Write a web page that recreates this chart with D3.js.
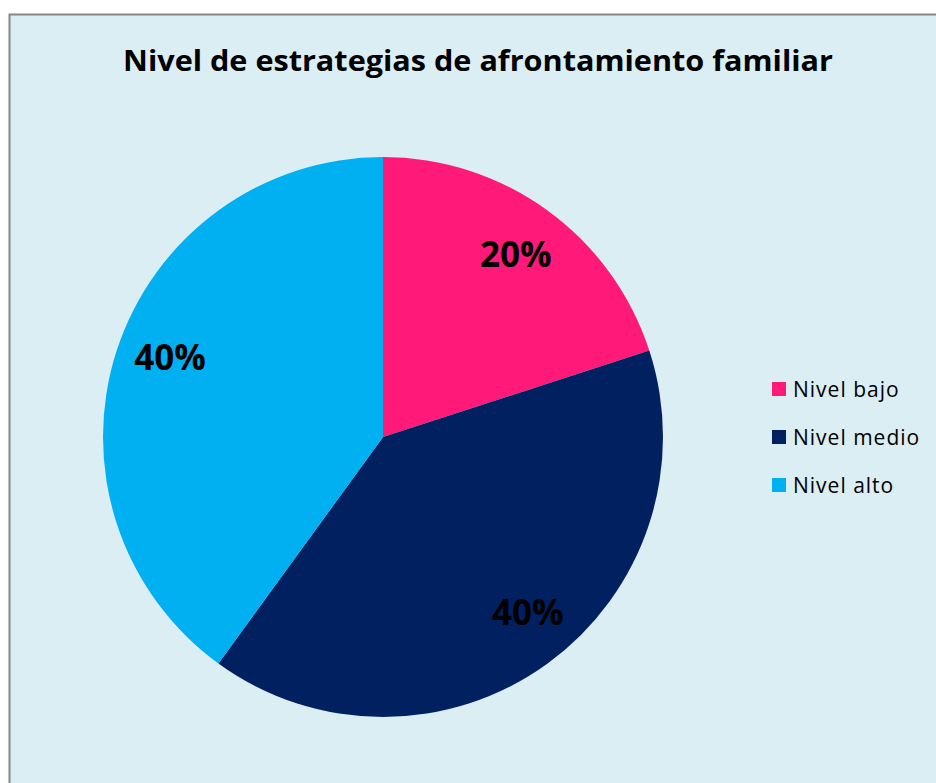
<!DOCTYPE html>
<html>
<head>
<meta charset="utf-8">
<script src="https://cdn.jsdelivr.net/npm/d3@7"></script>
<style>
	body { margin: 0; background: #fff; }
	svg { display: block; }
</style>
</head>
<body>
<svg id="chart" width="936" height="783"></svg>
<script>
	//Data-----------------------------------------------------------------------
	var categories = ['Nivel bajo', 'Nivel medio', 'Nivel alto'];
	var values = [20, 40, 40];
	var colors = ['#FF1A7A', '#002060', '#00B0F0'];
	var title = 'Nivel de estrategias de afrontamiento familiar';

	var svg = d3.select('#chart');
	var font = '"Open Sans", Lato, sans-serif';

	//frame
	svg.append('rect')
		.attr('x', 9.5)
		.attr('y', 14.5)
		.attr('width', 940)
		.attr('height', 800)
		.style('fill', '#DBEEF4')
		.style('stroke', '#868686')
		.style('stroke-width', 2);

	//title
	svg.append('text')
		.attr('x', 478)
		.attr('y', 71)
		.attr('text-anchor', 'middle')
		.attr('textLength', 710)
		.attr('lengthAdjust', 'spacingAndGlyphs')
		.style('font-family', font)
		.style('font-weight', 'bold')
		.style('font-size', '29px')
		.style('fill', '#000')
		.text(title);

	//pie
	var cx = 383, cy = 437, radius = 280;
	var pie = d3.pie().sort(null).value(function (d) { return d; });
	var arc = d3.arc().innerRadius(0).outerRadius(radius);
	var labelArc = d3.arc().innerRadius(226).outerRadius(226);
	var total = d3.sum(values);
	//small nudges so labels sit where the original placed them
	var labelNudge = [[0, 0], [12, -7], [2, -10]];

	var g = svg.append('g').attr('transform', 'translate(' + cx + ',' + cy + ')');
	var slices = pie(values);

	g.selectAll('path')
		.data(slices)
		.enter()
		.append('path')
		.attr('d', arc)
		.style('fill', function (d, i) { return colors[i]; });

	g.selectAll('text')
		.data(slices)
		.enter()
		.append('text')
		.attr('transform', function (d, i) {
			var c = labelArc.centroid(d);
			return 'translate(' + (c[0] + labelNudge[i][0]) + ',' + (c[1] + labelNudge[i][1]) + ')';
		})
		.attr('text-anchor', 'middle')
		.attr('dy', '0.36em')
		.style('font-family', font)
		.style('font-weight', 'bold')
		.style('font-size', '35px')
		.style('fill', '#000')
		.text(function (d) { return Math.round(d.data / total * 100) + '%'; });

	//legend
	var legend = svg.append('g').attr('transform', 'translate(772,382)');
	var rows = legend.selectAll('g')
		.data(categories)
		.enter()
		.append('g')
		.attr('transform', function (d, i) { return 'translate(0,' + (i * 48) + ')'; });
	rows.append('rect')
		.attr('width', 14)
		.attr('height', 14)
		.style('fill', function (d, i) { return colors[i]; });
	rows.append('text')
		.attr('x', 21)
		.attr('y', 7)
		.attr('dy', '0.36em')
		.style('font-family', font)
		.style('font-size', '21px')
		.style('letter-spacing', '1px')
		.style('fill', '#000')
		.text(function (d) { return d; });
</script>
</body>
</html>
